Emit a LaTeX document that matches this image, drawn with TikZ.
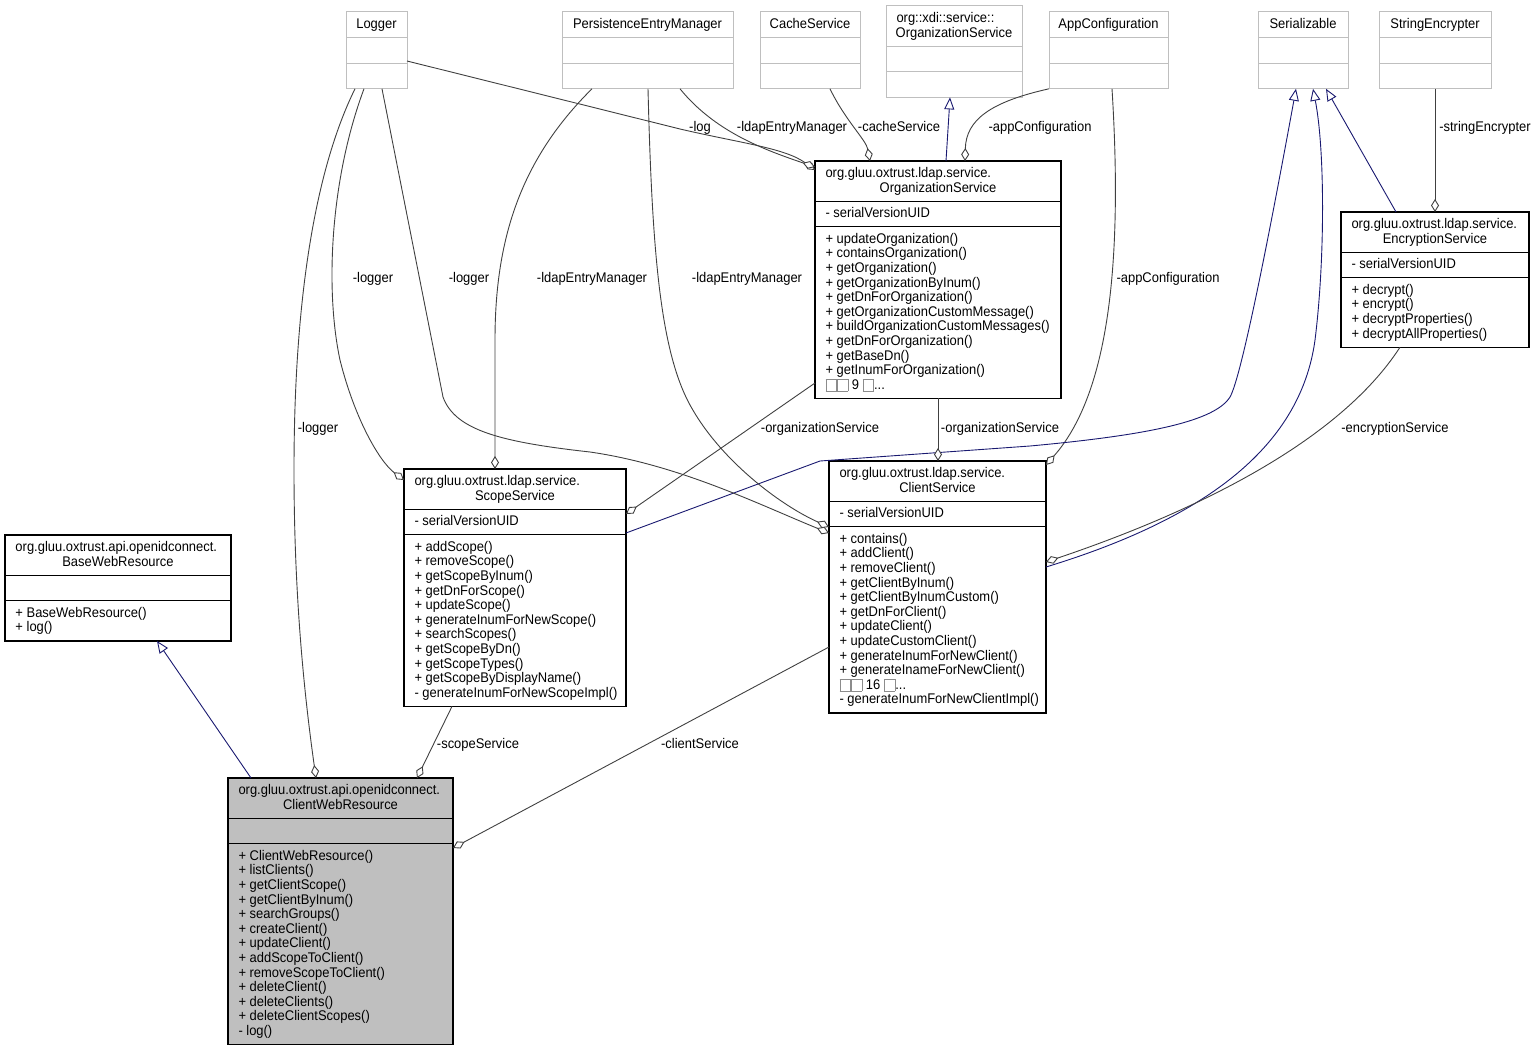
\documentclass[tikz,border=0pt]{standalone}
\usepackage{fontspec}
\setmainfont{Liberation Sans}[FakeStretch=0.925]
\usetikzlibrary{arrows.meta,calc}
\definecolor{egray}{HTML}{404040}
\definecolor{eblue}{HTML}{191970}
\definecolor{bgray}{HTML}{BFBFBF}
\definecolor{mgray}{HTML}{8C8C8C}
\newcommand\mgb{\raisebox{-1.5pt}{\textcolor{mgray}{\setlength\fboxsep{0pt}\setlength\fboxrule{0.7pt}\fbox{\rule{0pt}{11pt}\rule{10pt}{0pt}}}}}
\newcommand\tabl[1]{\begin{tabular}{@{}l@{}}#1\end{tabular}}
\newcommand\hdiv[3]{\draw[#1] ($(#2.north west)+(0,#3)$) -- ($(#2.north east)+(0,#3)$);}
\begin{document}
\begin{tikzpicture}[x=1pt,y=-1pt,
  font=\fontsize{14}{14.6}\selectfont,
  cls/.style={draw=black, line width=1.1pt, fill=white, anchor=north west, inner sep=0pt, outer sep=0pt},
  gcls/.style={draw=bgray, line width=1pt, fill=white, anchor=north west, inner sep=0pt, outer sep=0pt},
  gline/.style={draw=bgray, line width=1pt},
  bline/.style={draw=black, line width=1.1pt},
  txt/.style={inner sep=0pt, outer sep=0pt},
  lab/.style={inner sep=0pt, outer sep=0pt, anchor=base},
  agg/.style={draw=egray, line width=0.9pt, -{Diamond[length=13pt,width=8pt,fill=white]}},
  inh/.style={draw=eblue, line width=0.9pt, -{Triangle[length=12pt,width=10pt,fill=white]}},
]
\useasboundingbox (0,0) rectangle (1538,1051);

% ---------- top row (external classes, gray) ----------
\node[gcls, minimum width=61pt, minimum height=76.8pt] (logger) at (346,12) {};
\hdiv{gline}{logger}{25.6}\hdiv{gline}{logger}{51.2}
\node[txt, anchor=north] (loggerT) at (376.5,18.3) {\tabl{Logger}};

\node[gcls, minimum width=171pt, minimum height=76.8pt] (pem) at (562,12) {};
\hdiv{gline}{pem}{25.6}\hdiv{gline}{pem}{51.2}
\node[txt, anchor=north] (pemT) at (647.5,18.3) {\tabl{PersistenceEntryManager}};

\node[gcls, minimum width=100pt, minimum height=76.8pt] (cache) at (760,12) {};
\hdiv{gline}{cache}{25.6}\hdiv{gline}{cache}{51.2}
\node[txt, anchor=north] (cacheT) at (810,18.3) {\tabl{CacheService}};

\node[gcls, minimum width=136pt, minimum height=91.4pt] (xdi) at (886,6) {};
\hdiv{gline}{xdi}{40.2}\hdiv{gline}{xdi}{65.8}
\node[txt, anchor=north west] (xdiT) at (896.5,12.3) {\tabl{org::xdi::service::\\\makebox[115pt][c]{OrganizationService}}};

\node[gcls, minimum width=119pt, minimum height=76.8pt] (app) at (1049,12) {};
\hdiv{gline}{app}{25.6}\hdiv{gline}{app}{51.2}
\node[txt, anchor=north] (appT) at (1108.5,18.3) {\tabl{AppConfiguration}};

\node[gcls, minimum width=90pt, minimum height=76.8pt] (ser) at (1258,12) {};
\hdiv{gline}{ser}{25.6}\hdiv{gline}{ser}{51.2}
\node[txt, anchor=north] (serT) at (1303,18.3) {\tabl{Serializable}};

\node[gcls, minimum width=112pt, minimum height=76.8pt] (strenc) at (1379,12) {};
\hdiv{gline}{strenc}{25.6}\hdiv{gline}{strenc}{51.2}
\node[txt, anchor=north] (strencT) at (1435,18.3) {\tabl{StringEncrypter}};

% ---------- OrganizationService ----------
\node[cls, minimum width=246pt, minimum height=237.4pt] (org) at (815,161) {};
\hdiv{bline}{org}{40.2}\hdiv{bline}{org}{65.8}
\node[txt, anchor=north west] (orgT) at (825.5,167.3) {\tabl{org.gluu.oxtrust.ldap.service.\\\makebox[225pt][c]{OrganizationService}}};
\node[txt, anchor=north west] (orgA) at (825.5,207.5) {\tabl{- serialVersionUID}};
\node[txt, anchor=north west] (orgM) at (825.5,233.1) {\tabl{+ updateOrganization()\\+ containsOrganization()\\+ getOrganization()\\+ getOrganizationByInum()\\+ getDnForOrganization()\\+ getOrganizationCustomMessage()\\+ buildOrganizationCustomMessages()\\+ getDnForOrganization()\\+ getBaseDn()\\+ getInumForOrganization()\\\mgb\mgb\ 9 \mgb...}};

% ---------- EncryptionService ----------
\node[cls, minimum width=188pt, minimum height=135.2pt] (enc) at (1341,212) {};
\hdiv{bline}{enc}{40.2}\hdiv{bline}{enc}{65.8}
\node[txt, anchor=north west] (encT) at (1351.5,218.3) {\tabl{org.gluu.oxtrust.ldap.service.\\\makebox[167pt][c]{EncryptionService}}};
\node[txt, anchor=north west] (encA) at (1351.5,258.5) {\tabl{- serialVersionUID}};
\node[txt, anchor=north west] (encM) at (1351.5,284.1) {\tabl{+ decrypt()\\+ encrypt()\\+ decryptProperties()\\+ decryptAllProperties()}};

% ---------- ScopeService ----------
\node[cls, minimum width=222pt, minimum height=237.4pt] (scope) at (404,469) {};
\hdiv{bline}{scope}{40.2}\hdiv{bline}{scope}{65.8}
\node[txt, anchor=north west] (scopeT) at (414.5,475.3) {\tabl{org.gluu.oxtrust.ldap.service.\\\makebox[201pt][c]{ScopeService}}};
\node[txt, anchor=north west] (scopeA) at (414.5,515.5) {\tabl{- serialVersionUID}};
\node[txt, anchor=north west] (scopeM) at (414.5,541.1) {\tabl{+ addScope()\\+ removeScope()\\+ getScopeByInum()\\+ getDnForScope()\\+ updateScope()\\+ generateInumForNewScope()\\+ searchScopes()\\+ getScopeByDn()\\+ getScopeTypes()\\+ getScopeByDisplayName()\\- generateInumForNewScopeImpl()}};

% ---------- ClientService ----------
\node[cls, minimum width=217pt, minimum height=252pt] (client) at (829,461) {};
\hdiv{bline}{client}{40.2}\hdiv{bline}{client}{65.8}
\node[txt, anchor=north west] (clientT) at (839.5,467.3) {\tabl{org.gluu.oxtrust.ldap.service.\\\makebox[196pt][c]{ClientService}}};
\node[txt, anchor=north west] (clientA) at (839.5,507.5) {\tabl{- serialVersionUID}};
\node[txt, anchor=north west] (clientM) at (839.5,533.1) {\tabl{+ contains()\\+ addClient()\\+ removeClient()\\+ getClientByInum()\\+ getClientByInumCustom()\\+ getDnForClient()\\+ updateClient()\\+ updateCustomClient()\\+ generateInumForNewClient()\\+ generateInameForNewClient()\\\mgb\mgb\ 16 \mgb...\\- generateInumForNewClientImpl()}};

% ---------- BaseWebResource ----------
\node[cls, minimum width=226pt, minimum height=106pt] (base) at (5,535) {};
\hdiv{bline}{base}{40.2}\hdiv{bline}{base}{65.8}
\node[txt, anchor=north west] (baseT) at (15.5,541.3) {\tabl{org.gluu.oxtrust.api.openidconnect.\\\makebox[205pt][c]{BaseWebResource}}};
\node[txt, anchor=north west] (baseM) at (15.5,607.1) {\tabl{+ BaseWebResource()\\+ log()}};

% ---------- ClientWebResource ----------
\node[cls, fill=bgray, minimum width=225pt, minimum height=266.6pt] (cwr) at (228,778) {};
\hdiv{bline}{cwr}{40.2}\hdiv{bline}{cwr}{65.8}
\node[txt, anchor=north west] (cwrT) at (238.5,784.3) {\tabl{org.gluu.oxtrust.api.openidconnect.\\\makebox[204pt][c]{ClientWebResource}}};
\node[txt, anchor=north west] (cwrM) at (238.5,850.1) {\tabl{+ ClientWebResource()\\+ listClients()\\+ getClientScope()\\+ getClientByInum()\\+ searchGroups()\\+ createClient()\\+ updateClient()\\+ addScopeToClient()\\+ removeScopeToClient()\\+ deleteClient()\\+ deleteClients()\\+ deleteClientScopes()\\- log()}};

% ---------- connectors ----------
% -log
\draw[agg] ($(logger.north east)+(0,49)$) -- (680,129) .. controls (740,143) and (785,148) .. ($(org.north west)+(0,9)$);
% -ldapEntryManager (pem -> org)
\draw[agg] ($(pem.south west)+(118,0)$) .. controls (715,132) and (765,150) .. ($(org.north west)+(0,6)$);
% -cacheService
\draw[agg] ($(cache.south west)+(70,0)$) .. controls (845,120) and (866,140) .. ($(org.north west)+(55,0)$);
% org -> xdi inheritance
\draw[inh] ($(org.north west)+(131,0)$) -- ($(xdi.south west)+(64,0)$);
% -appConfiguration (app -> org)
\draw[agg] (app.south west) .. controls (990,102) and (966,120) .. ($(org.north west)+(150,0)$);
% -appConfiguration (app -> client)
\draw[agg] ($(app.south west)+(63,0)$) .. controls (1122,250) and (1112,390) .. ($(client.north east)+(0,4)$);
% scope -> Serializable
\draw[inh] ($(scope.north east)+(0,64)$) -- (820,461) -- (1030,446) .. controls (1150,435) and (1215,421) .. (1230,397) .. controls (1242,376) and (1272,220) .. ($(ser.south west)+(38,0)$);
% client -> Serializable
\draw[inh] ($(client.north east)+(0,106)$) .. controls (1200,520) and (1300,450) .. (1315,340) .. controls (1325,260) and (1325,150) .. ($(ser.south west)+(55,0)$);
% enc -> Serializable
\draw[inh] ($(enc.north west)+(55,0)$) -- ($(ser.south west)+(68,0)$);
% -stringEncrypter
\draw[agg] ($(strenc.south west)+(56,0)$) -- ($(enc.north west)+(94,0)$);
% -encryptionService
\draw[agg] ($(enc.south west)+(59,0)$) .. controls (1340,440) and (1200,510) .. ($(client.north east)+(0,101)$);
% -organizationService (org -> scope)
\draw[agg] ($(org.north west)+(0,222)$) -- ($(scope.north east)+(0,45)$);
% -organizationService (org -> client)
\draw[agg] ($(org.south west)+(123,0)$) -- ($(client.north west)+(109,0)$);
% -logger (logger -> scope)
\draw[agg] ($(logger.south west)+(18,0)$) .. controls (330,180) and (325,290) .. (340,360) .. controls (355,420) and (380,462) .. ($(scope.north west)+(0,11)$);
% -logger (logger -> client)
\draw[agg] ($(logger.south west)+(36,0)$) -- (443,397) .. controls (455,430) and (500,442) .. (590,452) .. controls (680,465) and (760,505) .. ($(client.north west)+(0,72)$);
% -logger (logger -> cwr)
\draw[agg] ($(logger.south west)+(9,0)$) .. controls (315,170) and (294,300) .. (294,470) .. controls (294,600) and (305,700) .. ($(cwr.north west)+(88,0)$);
% -ldapEntryManager (pem -> scope)
\draw[agg] ($(pem.south west)+(30,0)$) .. controls (520,160) and (495,240) .. (495,340) -- ($(scope.north west)+(91,0)$);
% -ldapEntryManager (pem -> client)
\draw[agg] ($(pem.south west)+(86,0)$) .. controls (652,250) and (660,350) .. (690,405) .. controls (720,460) and (780,505) .. ($(client.north west)+(0,66)$);
% cwr -> base inheritance
\draw[inh] ($(cwr.north west)+(23,0)$) -- ($(base.south west)+(152,0)$);
% -scopeService
\draw[agg] ($(scope.south west)+(48,0)$) -- ($(cwr.north west)+(189,0)$);
% -clientService
\draw[agg] ($(client.north west)+(0,186)$) -- ($(cwr.north east)+(0,70)$);

% ---------- connector labels ----------
\node[lab] (l1) at (700,131.5) {-log};
\node[lab] (l2) at (792,131.5) {-ldapEntryManager};
\node[lab] (l3) at (899,131.5) {-cacheService};
\node[lab] (l4) at (1040,131.5) {-appConfiguration};
\node[lab] (l5) at (1485,131.5) {-stringEncrypter};
\node[lab] (l6) at (373,282.5) {-logger};
\node[lab] (l7) at (469,282.5) {-logger};
\node[lab] (l8) at (592,282.5) {-ldapEntryManager};
\node[lab] (l9) at (747,282.5) {-ldapEntryManager};
\node[lab] (l10) at (1168,282.5) {-appConfiguration};
\node[lab] (l11) at (318,432.5) {-logger};
\node[lab] (l12) at (820,432.5) {-organizationService};
\node[lab] (l13) at (1000,432.5) {-organizationService};
\node[lab] (l14) at (1395,432.5) {-encryptionService};
\node[lab] (l15) at (478,748.5) {-scopeService};
\node[lab] (l16) at (700,748.5) {-clientService};
\end{tikzpicture}
\end{document}
